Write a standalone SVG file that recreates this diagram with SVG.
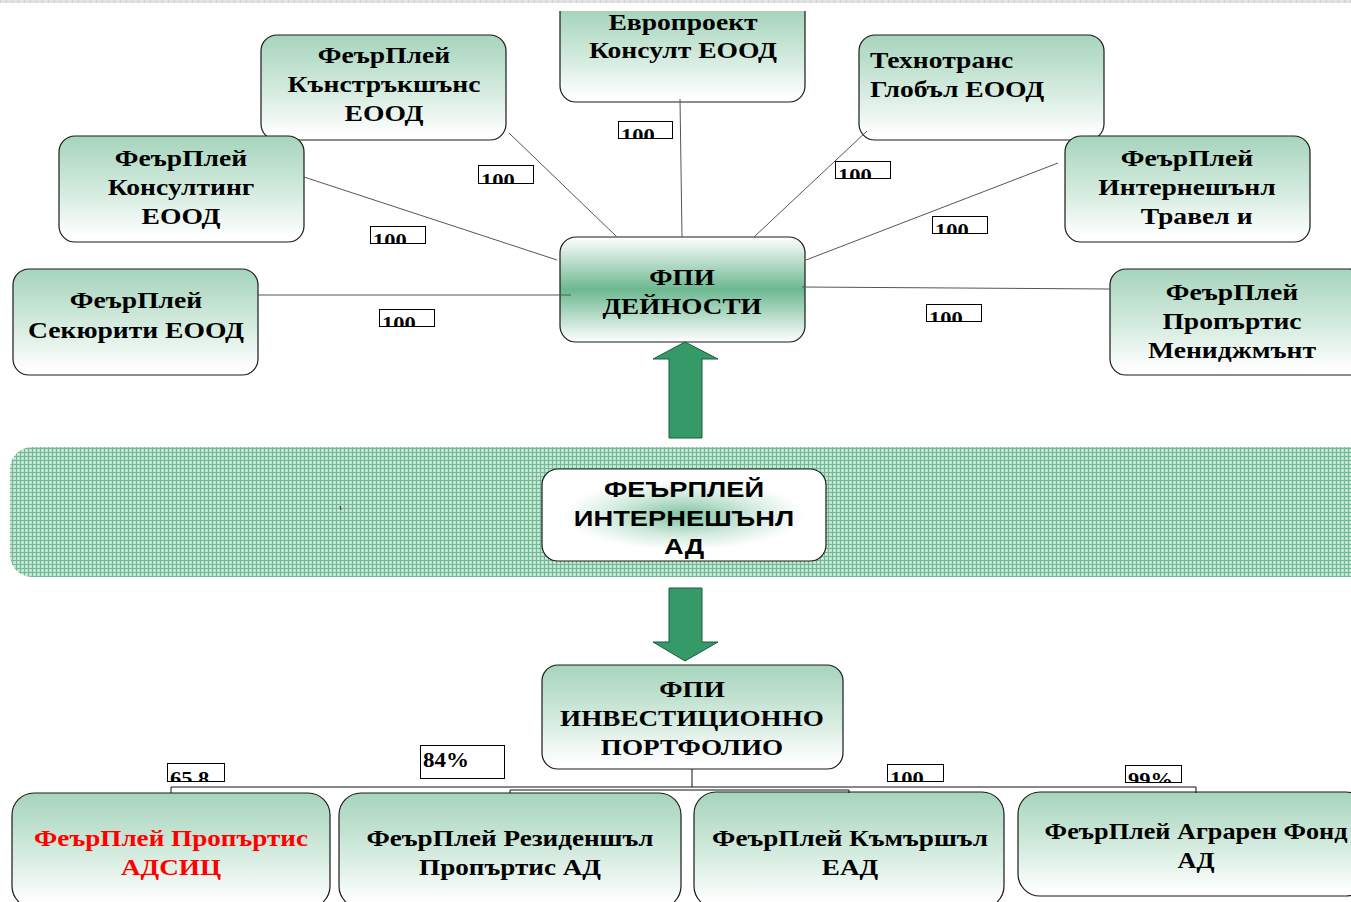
<svg xmlns="http://www.w3.org/2000/svg" width="1351" height="902" viewBox="0 0 1351 902">
<defs>
<linearGradient id="gTop" x1="0" y1="0" x2="0" y2="1">
<stop offset="0" stop-color="#a6d4bd"/>
<stop offset="0.55" stop-color="#d6ece0"/>
<stop offset="0.95" stop-color="#ffffff"/>
</linearGradient>
<linearGradient id="gMid" x1="0" y1="0" x2="0" y2="1">
<stop offset="0" stop-color="#ffffff"/>
<stop offset="0.5" stop-color="#6cb891"/>
<stop offset="1" stop-color="#ffffff"/>
</linearGradient>
<radialGradient id="gRad" cx="0.5" cy="0.5" r="0.5" fx="0.5" fy="0.5" gradientTransform="translate(0,0.05) scale(1,0.9)">
<stop offset="0" stop-color="#7fc3a0"/>
<stop offset="0.5" stop-color="#d3ebdf"/>
<stop offset="0.85" stop-color="#ffffff"/>
</radialGradient>
<pattern id="grid" width="4" height="4" patternUnits="userSpaceOnUse">
<rect width="4" height="4" fill="#bfe1ce"/>
<rect x="0" y="0" width="4" height="1" fill="#6fbb93"/>
<rect x="0" y="0" width="1" height="4" fill="#6fbb93"/>
<rect x="2" y="2" width="1" height="1" fill="#d9eee2"/>
</pattern>
<pattern id="strip" width="6" height="3" patternUnits="userSpaceOnUse">
<rect width="6" height="3" fill="#e2e2e2"/>
<rect x="0" y="0" width="1" height="3" fill="#cfcfcf"/>
</pattern>
</defs>
<style>
.box{stroke:#1a1a1a;stroke-width:1.2}
.g{fill:url(#gTop)}
.t{font-family:"Liberation Serif","Times New Roman",serif;font-weight:bold;font-size:23px;fill:#000;text-anchor:middle}
.ts{font-family:"Liberation Sans",Arial,sans-serif;font-weight:bold;font-size:21.5px;fill:#000;text-anchor:middle}
.lbl{fill:#fff;stroke:#000;stroke-width:1}
.lt{font-family:"Liberation Serif","Times New Roman",serif;font-weight:bold;font-size:18px;fill:#000}
.con{stroke:#555;stroke-width:1;fill:none}
.bus{stroke:#111;stroke-width:1;fill:none}
.arr{fill:#359a68;stroke:#1e5a3c;stroke-width:1}
</style>
<rect x="0" y="0" width="1351" height="3" fill="url(#strip)"/>
<g id="band">
<rect x="10" y="447" width="1380" height="130" rx="22" fill="url(#grid)"/>
<path d="M340 506 l1 4" stroke="#333" stroke-width="1"/>
</g>
<g id="n-construction">
<rect class="box g" x="261" y="35" width="245" height="105" rx="16"/>
<text class="t" transform="translate(384,63) scale(1.2 1)"><tspan x="0">ФеърПлей</tspan><tspan x="0" dy="29">Кънстръкшънс</tspan><tspan x="0" dy="29">ЕООД</tspan></text>
</g>
<g id="n-europroject">
<path class="box g" d="M560 11 V86 a16 16 0 0 0 16 16 H789 a16 16 0 0 0 16 -16 V11"/>
<text class="t" transform="translate(683,30) scale(1.2 1)"><tspan x="0">Европроект</tspan><tspan x="0" dy="28">Консулт ЕООД</tspan></text>
</g>
<g id="n-technotrans">
<rect class="box g" x="859" y="35" width="245" height="105" rx="16"/>
<text class="t" style="text-anchor:start" transform="translate(870,68) scale(1.2 1)"><tspan x="0">Технотранс</tspan><tspan x="0" dy="29">Глобъл ЕООД</tspan></text>
</g>
<g id="n-consulting">
<rect class="box g" x="59" y="136" width="245" height="106" rx="16"/>
<text class="t" transform="translate(181,166) scale(1.2 1)"><tspan x="0">ФеърПлей</tspan><tspan x="0" dy="29">Консултинг</tspan><tspan x="0" dy="29">ЕООД</tspan></text>
</g>
<g id="n-travel">
<rect class="box g" x="1065" y="136" width="245" height="106" rx="16"/>
<text class="t" transform="translate(1187,166) scale(1.2 1)"><tspan x="0">ФеърПлей</tspan><tspan x="0" dy="29">Интернешънл</tspan><tspan x="8" dy="29">Травел и</tspan></text>
</g>
<g id="n-security">
<rect class="box g" x="13" y="269" width="245" height="106" rx="16"/>
<text class="t" transform="translate(136,308) scale(1.2 1)"><tspan x="0">ФеърПлей</tspan><tspan x="0" dy="30">Секюрити ЕООД</tspan></text>
</g>
<g id="n-activities">
<rect class="box" fill="url(#gMid)" x="560" y="237" width="245" height="105" rx="16"/>
<text class="t" transform="translate(682,285) scale(1.18 1)"><tspan x="0">ФПИ</tspan><tspan x="0" dy="29">ДЕЙНОСТИ</tspan></text>
</g>
<g id="n-propmgmt">
<rect class="box g" x="1110" y="269" width="255" height="106" rx="16"/>
<text class="t" transform="translate(1232,300) scale(1.2 1)"><tspan x="0">ФеърПлей</tspan><tspan x="0" dy="29">Пропъртис</tspan><tspan x="0" dy="29">Мениджмънт</tspan></text>
</g>
<g id="n-fairplay">
<rect class="box" fill="url(#gRad)" x="542" y="469" width="284" height="92" rx="16"/>
<text class="ts" transform="translate(684,497) scale(1.27 1)"><tspan x="0">ФЕЪРПЛЕЙ</tspan><tspan x="0" dy="29">ИНТЕРНЕШЪНЛ</tspan><tspan x="0" dy="28">АД</tspan></text>
</g>
<g id="n-portfolio">
<rect class="box g" x="542" y="665" width="301" height="104" rx="16"/>
<text class="t" transform="translate(692,697) scale(1.18 1)"><tspan x="0">ФПИ</tspan><tspan x="0" dy="29">ИНВЕСТИЦИОННО</tspan><tspan x="0" dy="29">ПОРТФОЛИО</tspan></text>
</g>
<g id="n-adsits">
<rect class="box g" x="12" y="793" width="318" height="115" rx="22"/>
<text class="t" style="fill:#ff0000" transform="translate(171,846) scale(1.18 1)"><tspan x="0">ФеърПлей Пропъртис</tspan><tspan x="0" dy="29">АДСИЦ</tspan></text>
</g>
<g id="n-residential">
<rect class="box g" x="339" y="793" width="342" height="115" rx="22"/>
<text class="t" transform="translate(510,846) scale(1.18 1)"><tspan x="0">ФеърПлей Резиденшъл</tspan><tspan x="0" dy="29">Пропъртис АД</tspan></text>
</g>
<g id="n-commercial">
<rect class="box g" x="694" y="792" width="310" height="116" rx="22"/>
<text class="t" transform="translate(850,846) scale(1.18 1)"><tspan x="0">ФеърПлей Къмършъл</tspan><tspan x="0" dy="29">ЕАД</tspan></text>
</g>
<g id="n-agrarian">
<rect class="box g" x="1018" y="792" width="350" height="104" rx="22"/>
<text class="t" transform="translate(1196,839) scale(1.14 1)"><tspan x="0">ФеърПлей Аграрен Фонд</tspan><tspan x="0" dy="29">АД</tspan></text>
</g>
<g id="arrows">
<path class="arr" d="M685 342 L718 359 H702 V438 H669 V359 H653 Z"/>
<path class="arr" d="M669 588 H702 V642 H718 L685 661 L653 642 H669 Z"/>
</g>
<g id="connectors">
<line class="con" x1="617" y1="237" x2="509" y2="133"/>
<line class="con" x1="682" y1="237" x2="680" y2="99"/>
<line class="con" x1="754" y1="237" x2="867" y2="131"/>
<line class="con" x1="557" y1="260" x2="304" y2="177"/>
<line class="con" x1="806" y1="260" x2="1058" y2="163"/>
<line class="con" x1="258" y1="295" x2="571" y2="295"/>
<line class="con" x1="802" y1="287" x2="1110" y2="289"/>
<path class="bus" d="M692 769 V787 M171 793 V787 H1196 V793 M510 793 V790 H849 V793"/>
</g>
<g id="labels">
<svg x="478" y="165" width="56" height="19"><rect class="lbl" x="0.5" y="0.5" width="55" height="18"/><text class="lt" transform="translate(3,22) scale(1.25 1)">100</text></svg>
<svg x="618" y="121" width="55" height="18"><rect class="lbl" x="0.5" y="0.5" width="54" height="17"/><text class="lt" transform="translate(3,21) scale(1.25 1)">100</text></svg>
<svg x="835" y="161" width="56" height="18"><rect class="lbl" x="0.5" y="0.5" width="55" height="17"/><text class="lt" transform="translate(3,21) scale(1.25 1)">100</text></svg>
<svg x="370" y="226" width="56" height="18"><rect class="lbl" x="0.5" y="0.5" width="55" height="17"/><text class="lt" transform="translate(3,21) scale(1.25 1)">100</text></svg>
<svg x="932" y="216" width="56" height="18"><rect class="lbl" x="0.5" y="0.5" width="55" height="17"/><text class="lt" transform="translate(3,21) scale(1.25 1)">100</text></svg>
<svg x="379" y="309" width="56" height="18"><rect class="lbl" x="0.5" y="0.5" width="55" height="17"/><text class="lt" transform="translate(3,21) scale(1.25 1)">100</text></svg>
<svg x="926" y="304" width="56" height="18"><rect class="lbl" x="0.5" y="0.5" width="55" height="17"/><text class="lt" transform="translate(3,21) scale(1.25 1)">100</text></svg>
<svg x="167" y="763" width="58" height="19"><rect class="lbl" x="0.5" y="0.5" width="57" height="18"/><text class="lt" transform="translate(3,22) scale(1.25 1)">65.8</text></svg>
<svg x="420" y="745" width="85" height="34"><rect class="lbl" x="0.5" y="0.5" width="84" height="33"/><text class="lt" style="font-size:20px" transform="translate(3,22) scale(1.15 1)">84%</text></svg>
<svg x="887" y="764" width="57" height="18"><rect class="lbl" x="0.5" y="0.5" width="56" height="17"/><text class="lt" transform="translate(3,21) scale(1.25 1)">100</text></svg>
<svg x="1125" y="765" width="57" height="18"><rect class="lbl" x="0.5" y="0.5" width="56" height="17"/><text class="lt" transform="translate(3,21) scale(1.25 1)">99%</text></svg>
</g>
</svg>
